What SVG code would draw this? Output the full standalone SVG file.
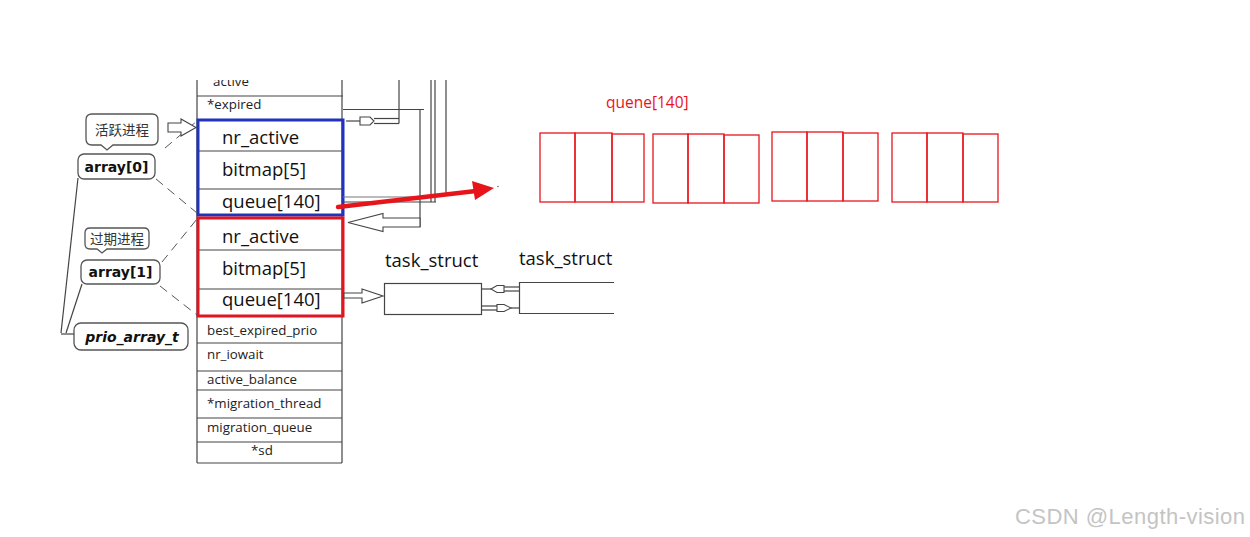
<svg xmlns="http://www.w3.org/2000/svg" width="1250" height="537" viewBox="0 0 1250 537">
<style>
.ln{stroke:#444;stroke-width:1.2;fill:none}
.lg{stroke:#777;stroke-width:1;fill:none}
.dash{stroke:#555;stroke-width:1;fill:none;stroke-dasharray:9 6}
.ho{fill:#fff;stroke:#444;stroke-width:1.1}
.big{font-family:"Open Sans","Noto Sans",sans-serif;font-size:18.5px;fill:#111}
.sm{font-family:"Open Sans","Noto Sans",sans-serif;font-size:13.3px;fill:#222}
.bub{fill:#fff;stroke:#555;stroke-width:1.3}
.cn{font-family:"Noto Sans CJK SC",sans-serif;font-size:13.5px;fill:#333}
.bold{font-family:"DejaVu Sans","Noto Sans",sans-serif;font-weight:bold;font-size:14px;fill:#111}
.rq{fill:none;stroke:#e8141c;stroke-width:1.3}
</style>
<defs>
<clipPath id="topclip"><rect x="0" y="80" width="1250" height="457"/></clipPath>
</defs>
<rect width="1250" height="537" fill="#fff"/>

<!-- runqueue struct -->
<g id="runqueue">
<g clip-path="url(#topclip)">
<text class="sm" x="213" y="86">active</text>
</g>
<line class="ln" x1="197" y1="80" x2="197" y2="463"/>
<line class="ln" x1="342" y1="80" x2="342" y2="463"/>
<line class="ln" x1="197" y1="96" x2="343" y2="96"/>
<text class="sm" x="207" y="109">*expired</text>
<line class="ln" x1="197" y1="343" x2="342" y2="343"/>
<line class="ln" x1="197" y1="371" x2="342" y2="371"/>
<line class="ln" x1="197" y1="390" x2="342" y2="390"/>
<line class="ln" x1="197" y1="418" x2="342" y2="418"/>
<line class="ln" x1="197" y1="442" x2="342" y2="442"/>
<line class="ln" x1="197" y1="463" x2="342" y2="463"/>
<text class="sm" x="207" y="335">best_expired_prio</text>
<text class="sm" x="207" y="359">nr_iowait</text>
<text class="sm" x="207" y="384">active_balance</text>
<text class="sm" x="207" y="408">*migration_thread</text>
<text class="sm" x="207" y="432">migration_queue</text>
<text class="sm" x="251" y="455">*sd</text>
</g>

<g id="array0">
<line class="ln" x1="197" y1="151" x2="343" y2="151"/>
<line class="ln" x1="197" y1="189" x2="343" y2="189"/>
<rect x="198" y="120" width="145" height="95" fill="none" stroke="#2233bb" stroke-width="3"/>
<text class="big" x="222" y="144">nr_active</text>
<text class="big" x="222" y="176">bitmap[5]</text>
<text class="big" x="222" y="208">queue[140]</text>
</g>

<g id="array1">
<line class="ln" x1="197" y1="250" x2="343" y2="250"/>
<line class="ln" x1="197" y1="289" x2="343" y2="289"/>
<rect x="198" y="218" width="145" height="98" fill="none" stroke="#e01520" stroke-width="3"/>
<text class="big" x="222" y="243">nr_active</text>
<text class="big" x="222" y="275">bitmap[5]</text>
<text class="big" x="222" y="306">queue[140]</text>
</g>

<!-- left annotations -->
<g id="bubble-active">
<path class="bub" d="M92,114 H152 Q158,114 158,120 V139 Q158,145 152,145 H113 L107,150 L101,145 H92 Q86,145 86,139 V120 Q86,114 92,114 Z"/>
<text class="cn" x="122" y="135" text-anchor="middle">活跃进程</text>
</g>
<g id="bubble-array0">
<rect class="bub" x="78" y="154" width="77" height="25" rx="6"/>
<text class="bold" x="116.5" y="172" text-anchor="middle">array[0]</text>
</g>
<g id="bubble-expired">
<path class="bub" d="M90,228 H144 Q149,228 149,233 V244 Q149,249 144,249 H107 L102,253 L97,249 H90 Q85,249 85,244 V233 Q85,228 90,228 Z"/>
<text class="cn" x="117" y="244" text-anchor="middle">过期进程</text>
</g>
<g id="bubble-array1">
<rect class="bub" x="81" y="260" width="79" height="24" rx="6"/>
<text class="bold" x="120.5" y="277" text-anchor="middle">array[1]</text>
</g>
<g id="bubble-prio">
<rect class="bub" x="74" y="323" width="114" height="27" rx="7"/>
<text class="bold" x="132" y="342" text-anchor="middle" font-style="italic" font-size="16">prio_array_t</text>
</g>

<!-- task structs -->
<g id="task1">
<rect x="384.5" y="283.5" width="97" height="31" fill="#fff" stroke="#444" stroke-width="1.2"/>
<text class="big" x="385" y="267">task_struct</text>
</g>
<g id="task2">
<path class="ln" d="M614,282.5 H519.5 V313.5 H614"/>
<text class="big" x="519" y="265">task_struct</text>
</g>

<!-- queue array -->
<g id="quene">
<text x="606" y="108" font-family="Open Sans,Noto Sans,sans-serif" font-size="15.5" fill="#e8141c">quene[140]</text>
<rect class="rq" x="540" y="133" width="35" height="69"/>
<rect class="rq" x="575" y="133" width="37" height="69"/>
<rect class="rq" x="612" y="134" width="32" height="68"/>
<rect class="rq" x="653" y="134" width="35" height="69"/>
<rect class="rq" x="688" y="134" width="36" height="69"/>
<rect class="rq" x="724" y="135" width="35" height="68"/>
<rect class="rq" x="772" y="132" width="35" height="69"/>
<rect class="rq" x="807" y="132" width="36" height="69"/>
<rect class="rq" x="843" y="133" width="35" height="68"/>
<rect class="rq" x="892" y="133" width="35" height="69"/>
<rect class="rq" x="927" y="133" width="36" height="69"/>
<rect class="rq" x="963" y="134" width="35" height="68"/>
</g>

<!-- connectors -->
<g id="connectors">
<!-- left structure lines -->
<line class="ln" x1="78" y1="178" x2="61" y2="333"/>
<line class="ln" x1="82" y1="284" x2="66" y2="333"/>
<line class="ln" x1="61" y1="334" x2="74" y2="334"/>
<line class="dash" x1="165" y1="148" x2="197" y2="121"/>
<line class="dash" x1="156" y1="179" x2="197" y2="213"/>
<line class="dash" x1="162" y1="262" x2="197" y2="219"/>
<line class="dash" x1="160" y1="286" x2="197" y2="315"/>
<polygon class="ho" points="168,123 181,123 181,119 196,127.5 181,136 181,132 168,132"/>

<!-- right pointer lines -->
<line class="ln" x1="431" y1="80" x2="431" y2="202"/>
<line class="ln" x1="435" y1="80" x2="435" y2="202"/>
<line class="ln" x1="446" y1="80" x2="446" y2="193"/>
<line class="lg" x1="343" y1="197" x2="431" y2="197"/>
<line class="ln" x1="343" y1="202" x2="436" y2="202"/>
<line class="ln" x1="399" y1="80" x2="399" y2="123.5"/>
<line class="ln" x1="343" y1="109.5" x2="424" y2="109.5"/>
<line class="ln" x1="420" y1="109.5" x2="420" y2="227"/>
<line class="ln" x1="346" y1="121" x2="360" y2="121"/>
<polygon class="ho" points="360,117 370,117 374,121 370,125 360,125"/>
<line class="ln" x1="374" y1="118.5" x2="399" y2="118.5"/>
<line class="ln" x1="374" y1="123.5" x2="399" y2="123.5"/>
<polygon class="ho" points="348,222.5 383,213.5 383,218 420,218 420,227 383,227 383,231.5"/>

<!-- queue to task_struct -->
<polygon class="ho" points="344,293 362,293 362,289 383,296 362,303 362,298 344,298"/>
<line class="ln" x1="482" y1="289" x2="491" y2="289"/>
<polygon class="ho" points="491,289 497,285.5 504,285.5 504,292.5 497,292.5"/>
<line class="ln" x1="504" y1="287" x2="519" y2="287"/>
<line class="ln" x1="504" y1="291" x2="519" y2="291"/>
<line class="ln" x1="482" y1="306" x2="497" y2="306"/>
<line class="ln" x1="482" y1="310" x2="497" y2="310"/>
<polygon class="ho" points="497,304.5 504,304.5 511,308 504,311.5 497,311.5"/>
<line class="ln" x1="511" y1="308" x2="519" y2="308"/>

<!-- red arrow -->
<line x1="338" y1="207" x2="476" y2="191" stroke="#e8141c" stroke-width="4.5" stroke-linecap="round"/>
<polygon points="494,188 472,181 475,200" fill="#e8141c"/>
<circle cx="498" cy="186.5" r="0.8" fill="#666"/>
</g>

<text x="1015" y="524" font-family="Liberation Sans,Arial,sans-serif" font-size="22" fill="#c4c4c4" textLength="230">CSDN @Length-vision</text>
</svg>
